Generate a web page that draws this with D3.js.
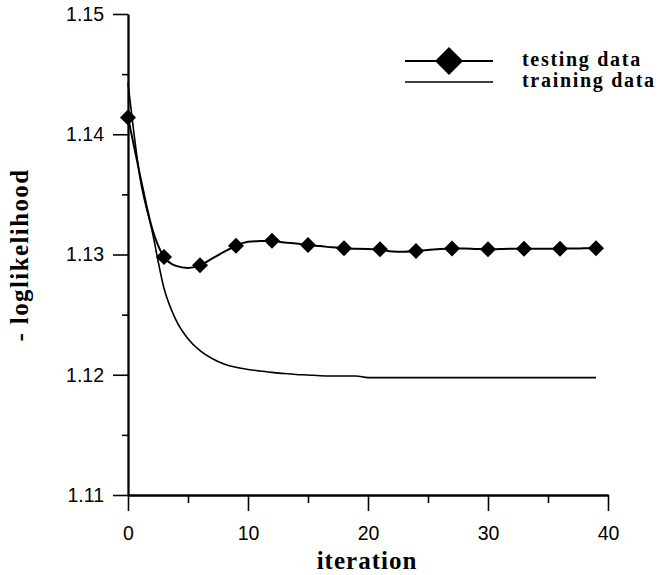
<!DOCTYPE html>
<html>
<head>
<meta charset="utf-8">
<script src="https://cdn.jsdelivr.net/npm/d3@7"></script>
<style>
  html, body { margin: 0; padding: 0; background: #fff; }
  svg { display: block; }
  .tick text { font-family: "Liberation Sans", Arial, sans-serif; font-size: 19.5px; fill: #000; }
  .title { font-family: "Liberation Serif", "Times New Roman", serif; font-weight: bold; fill: #000; }
</style>
</head>
<body>
<svg id="chart" width="662" height="575"></svg>
<script>
// Negative log-likelihood per EM iteration
const iterations = d3.range(0, 40);
const trainingLL = [
  1.1443, 1.1364, 1.1320, 1.1272, 1.12455, 1.1230, 1.1220, 1.12135, 1.1209, 1.12062,
  1.12044, 1.12031, 1.1202, 1.1201, 1.12002, 1.11998, 1.11992, 1.1199, 1.1199, 1.1199,
  1.11976, 1.11976, 1.11976, 1.11976, 1.11976, 1.11976, 1.11976, 1.11976, 1.11976, 1.11976,
  1.11976, 1.11976, 1.11976, 1.11976, 1.11976, 1.11976, 1.11976, 1.11976, 1.11976, 1.11976
];
const testingLL = [
  1.1414, 1.1366, 1.1322, 1.1298, 1.12905, 1.12888, 1.1291, 1.12966, 1.13021, 1.13073,
  1.13106, 1.13112, 1.13115, 1.1310, 1.13091, 1.13079, 1.1307, 1.1306, 1.13052, 1.13048,
  1.13045, 1.13043, 1.13025, 1.13023, 1.1303, 1.13037, 1.13046, 1.1305, 1.1305, 1.13046,
  1.13043, 1.13046, 1.13048, 1.13048, 1.13048, 1.13048, 1.13048, 1.1305, 1.13051, 1.13052
];
// testing data is marked every third iteration
const markerIterations = d3.range(0, 40, 3);

const xMajor = [0, 10, 20, 30, 40];
const xMinor = [5, 15, 25, 35];
const yMajor = [1.11, 1.12, 1.13, 1.14, 1.15];
const yMinor = [1.115, 1.125, 1.135, 1.145];

const seriesNames = ["testing data", "training data"];
const xTitle = "iteration";
const yTitle = "- loglikelihood";

const svg = d3.select("#chart");
const x = d3.scaleLinear().domain([0, 40]).range([128, 608]);
const y = d3.scaleLinear().domain([1.11, 1.15]).range([495, 14]);

// axes
const axisStyle = g => {
  g.select(".domain").attr("stroke", "#000").attr("stroke-width", 1.8);
  g.selectAll(".tick line").attr("stroke", "#000").attr("stroke-width", 1.6);
};

svg.append("g")
  .attr("transform", `translate(${x(0)},0)`)
  .call(d3.axisLeft(y).tickValues(yMinor).tickSize(6).tickSizeOuter(0).tickFormat(""))
  .call(axisStyle);
svg.append("g")
  .attr("transform", `translate(${x(0)},0)`)
  .call(d3.axisLeft(y).tickValues(yMajor).tickSize(15).tickSizeOuter(0).tickPadding(9).tickFormat(d3.format(".2f")))
  .call(axisStyle);

svg.append("g")
  .attr("transform", `translate(0,${y(1.11)})`)
  .call(d3.axisBottom(x).tickValues(xMinor).tickSize(8).tickSizeOuter(0).tickFormat(""))
  .call(axisStyle);
svg.append("g")
  .attr("transform", `translate(0,${y(1.11)})`)
  .call(d3.axisBottom(x).tickValues(xMajor).tickSize(16).tickSizeOuter(0).tickPadding(15).tickFormat(d3.format("d")))
  .call(axisStyle);

svg.selectAll(".tick text").attr("font-family", null).attr("font-size", null);

// axis titles
svg.append("text").attr("class", "title")
  .attr("x", 367).attr("y", 569)
  .attr("text-anchor", "middle")
  .style("font-size", "25px").style("letter-spacing", "1px")
  .text(xTitle);

svg.append("text").attr("class", "title")
  .attr("transform", "translate(28,255) rotate(-90)")
  .attr("text-anchor", "middle")
  .style("font-size", "25px").style("letter-spacing", "1.4px")
  .text(yTitle);

// lines
const line = d3.line()
  .curve(d3.curveMonotoneX)
  .x((d, i) => x(iterations[i]))
  .y(d => y(d));

svg.append("path")
  .datum(trainingLL)
  .attr("fill", "none").attr("stroke", "#000").attr("stroke-width", 1.6)
  .attr("d", line);

svg.append("path")
  .datum(testingLL)
  .attr("fill", "none").attr("stroke", "#000").attr("stroke-width", 2)
  .attr("d", line);

const diamond = (cx, cy, r) => `M${cx},${cy - r}L${cx + r},${cy}L${cx},${cy + r}L${cx - r},${cy}Z`;

const markers = iterations
  .map((it, i) => ({ it, v: testingLL[i] }))
  .filter(d => markerIterations.includes(d.it));

svg.append("g").selectAll("path")
  .data(markers)
  .join("path")
  .attr("fill", "#000")
  .attr("d", d => diamond(x(d.it), y(d.v), 8));

// legend
const legend = svg.append("g");
const lx0 = 405, lx1 = 493, ly0 = 61, ly1 = 82;
legend.append("line").attr("x1", lx0).attr("x2", lx1).attr("y1", ly0).attr("y2", ly0)
  .attr("stroke", "#000").attr("stroke-width", 2);
legend.append("path").attr("fill", "#000").attr("d", diamond((lx0 + lx1) / 2, ly0, 14));
legend.append("line").attr("x1", lx0).attr("x2", lx1).attr("y1", ly1).attr("y2", ly1)
  .attr("stroke", "#000").attr("stroke-width", 1.6);

legend.selectAll("text")
  .data(seriesNames)
  .join("text").attr("class", "title")
  .attr("x", 522)
  .attr("y", (d, i) => 66 + i * 20.7)
  .style("font-size", "20px").style("letter-spacing", "1.7px")
  .text(d => d);
</script>
</body>
</html>
